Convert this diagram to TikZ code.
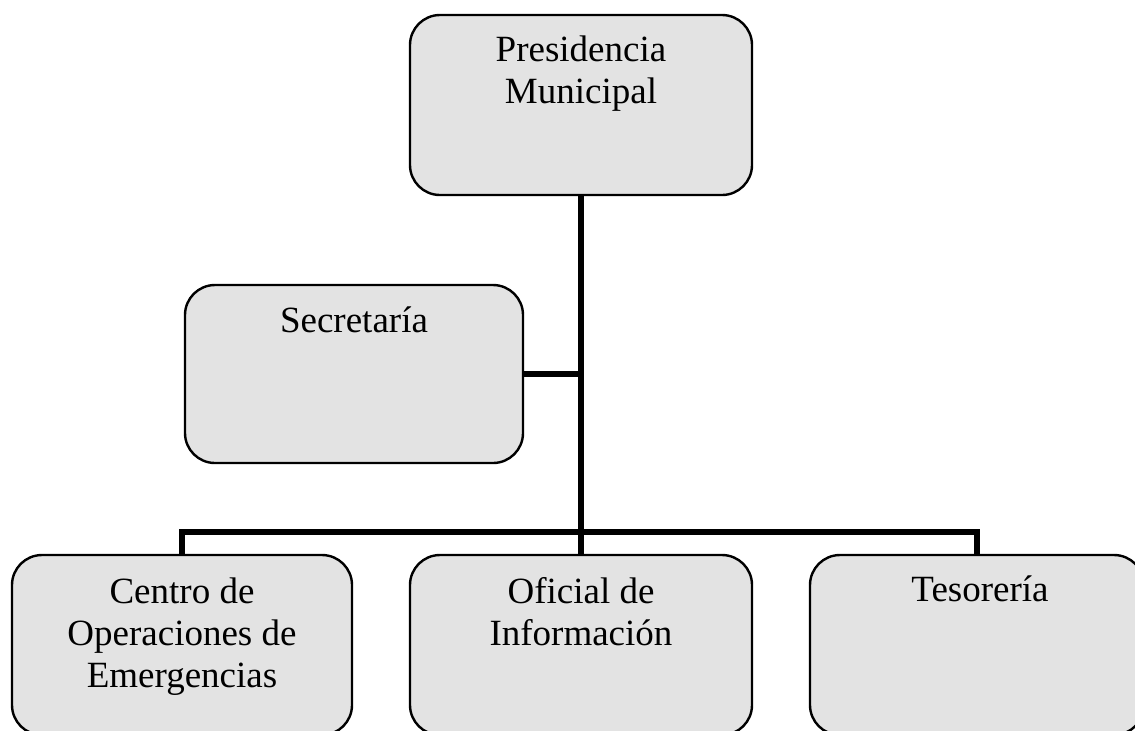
\documentclass[tikz,border=0pt]{standalone}
\usepackage{fontspec}
\setmainfont{Liberation Serif}
\begin{document}
\begin{tikzpicture}[x=0.5pt,y=-0.5pt,
  orgbox/.style={draw=black, line width=1.2pt, fill=black!11, rounded corners=15pt,
    rectangle, inner sep=0pt, outer sep=0pt},
  orgtext/.style={anchor=north, align=center, inner sep=0pt,
    font=\fontsize{18.5pt}{21pt}\selectfont},
  link/.style={draw=black, line width=3pt}]
\useasboundingbox (0,0) rectangle (1135,730);
\clip (0,0) rectangle (1135,730);
\fill[white] (0,0) rectangle (1135,730);
% boxes
\node[orgbox, minimum width=171pt, minimum height=90pt] (pres) at (581,105) {};
\node[orgbox, minimum width=169pt, minimum height=89pt] (sec) at (354,374) {};
\node[orgbox, minimum width=170pt, minimum height=90pt] (ceo) at (182,645) {};
\node[orgbox, minimum width=171pt, minimum height=90pt] (ofi) at (581,645) {};
\node[orgbox, minimum width=167pt, minimum height=90pt] (tes) at (977,645) {};
% texts
\node[orgtext] (prest) at (581,35) {Presidencia\\Municipal};
\node[orgtext] (sect) at (354,306) {Secretaría};
\node[orgtext] (ceot) at (182,577) {Centro de\\Operaciones de\\Emergencias};
\node[orgtext] (ofit) at (581,577) {Oficial de\\Información};
\node[orgtext] (test) at (980,575) {Tesorería};
% connectors
\coordinate (bus) at (581,532);
\draw[link] (pres.south) -- (ofi.north);
\draw[link] (sec.east) -- (sec.east -| pres.south);
\draw[link] (ceo.north) |- (bus) -| (tes.north);
\end{tikzpicture}
\end{document}
